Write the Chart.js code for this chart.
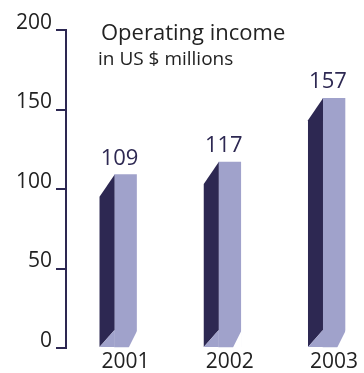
<!DOCTYPE html>
<html>
<head>
<meta charset="utf-8">
<script src="https://cdn.jsdelivr.net/npm/chart.js@4/dist/chart.umd.min.js"></script>
<style>
	body { margin: 0; background: #fff; }
	#wrap { width: 364px; height: 373px; }
</style>
</head>
<body>
<div id="wrap"><canvas id="myBarChart"></canvas></div>
<script>
var years = ['2001', '2002', '2003'];
var income = [109, 117, 157];
var yTicks = [0, 50, 100, 150, 200];
var titleLines = ['Operating income', 'in US $ millions'];

var navy = '#2d2852';
var lilac = '#a0a2cb';
var fontName = '"Open Sans", "DejaVu Sans", sans-serif';

// 側面と値ラベルを描くプラグイン
var sidePlugin = {
	id: 'side',
	afterDatasetsDraw: function (chart) {
		var c = chart.ctx;
		var meta = chart.getDatasetMeta(0);
		c.save();
		meta.data.forEach(function (bar, i) {
			var p = bar.getProps(['x', 'y', 'base', 'width'], true);
			var xl = p.x - p.width / 2;
			var xr = p.x + p.width / 2;
			var d = 15;
			// dark side
			c.fillStyle = navy;
			c.beginPath();
			c.moveTo(xl - d, p.y + 22);
			c.lineTo(xl, p.y);
			c.lineTo(xl, p.base - 17);
			c.lineTo(xl - d, p.base);
			c.closePath();
			c.fill();
			// floor
			c.fillStyle = lilac;
			c.beginPath();
			c.moveTo(xl, p.base - 17);
			c.lineTo(xl, p.base);
			c.lineTo(xl - d, p.base);
			c.closePath();
			c.fill();
			c.fillStyle = '#fff';
			c.beginPath();
			c.moveTo(xr + 1, p.base - 17);
			c.lineTo(xr + 1, p.base + 1);
			c.lineTo(xr - 8, p.base + 1);
			c.closePath();
			c.fill();
			// value
			c.fillStyle = navy;
			c.font = '22px ' + fontName;
			c.textAlign = 'center';
			c.textBaseline = 'alphabetic';
			c.fillText(String(income[i]), p.x - 6, p.y - 10);
		});
		// title
		c.fillStyle = '#222';
		c.textAlign = 'left';
		c.font = '22px ' + fontName;
		c.fillText(titleLines[0], 101, 40);
		c.font = '19px ' + fontName;
		c.fillText(titleLines[1], 98, 65);
		c.restore();
	},
};

var ctx = document.getElementById('myBarChart');
var myBarChart = new Chart(ctx, {
	type: 'bar',
	data: {
		datasets: [
			{
				data: income.map(function (v, i) { return { x: i, y: v }; }),
				backgroundColor: lilac,
				borderWidth: 0,
				barThickness: 22,
			},
		],
	},
	options: {
		responsive: true,
		maintainAspectRatio: false,
		animation: false,
		layout: {
			padding: { top: 30, left: 0, right: 0, bottom: 0 },
		},
		plugins: {
			legend: { display: false },
			tooltip: { enabled: false },
		},
		scales: {
			x: {
				type: 'linear',
				offset: false,
				min: -0.571,
				max: 2.288,
				afterBuildTicks: function (s) {
					s.ticks = years.map(function (_, i) { return { value: i }; });
				},
				afterFit: function (s) { s.height = 25; },
				grid: { display: false, offset: false },
				border: { display: false },
				ticks: {
					color: '#222',
					font: { family: fontName, size: 21 },
					padding: -7,
					maxRotation: 0,
					callback: function (v) { return years[v]; },
				},
			},
			y: {
				min: 0,
				max: 200,
				afterBuildTicks: function (s) {
					s.ticks = yTicks.map(function (v) { return { value: v }; });
				},
				afterFit: function (s) { s.width = 66; },
				grid: {
					drawOnChartArea: false,
					drawTicks: true,
					tickLength: 10,
					color: navy,
					lineWidth: 2,
				},
				border: { color: navy, width: 2 },
				ticks: {
					color: '#222',
					font: { family: fontName, size: 21 },
					padding: 4,
					labelOffset: -7,
				},
			},
		},
	},
	plugins: [sidePlugin],
});
</script>
</body>
</html>
